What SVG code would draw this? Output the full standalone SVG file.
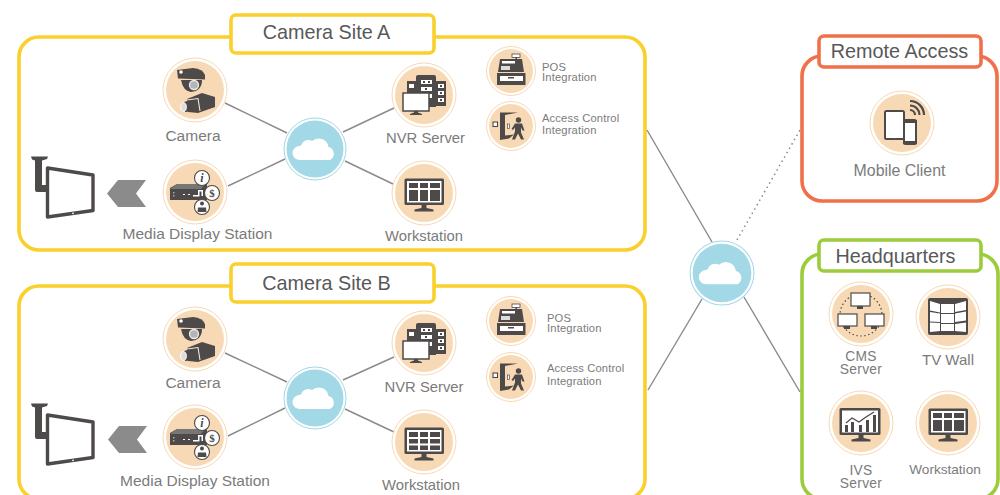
<svg xmlns="http://www.w3.org/2000/svg" width="1000" height="495" viewBox="0 0 1000 495">
<style>
text{font-family:"Liberation Sans",Arial,sans-serif;fill:#7b7b7b}
.t{font-size:19.800px;fill:#58585a;text-anchor:middle}
.l{font-size:14.800px;text-anchor:middle}
.b{font-size:15.500px}
.s{font-size:11.200px;letter-spacing:.15px}
.m{font-size:13.800px;letter-spacing:.3px}
.y{fill:#fff;stroke:#f9d02c;stroke-width:3.6}
.r{fill:#fff;stroke:#f0704a;stroke-width:3.6}
.g{fill:#fff;stroke:#9ccb3b;stroke-width:3.6}
.c line{stroke:#8a8a8a;stroke-width:1.4}
.d{fill:#4d4a49}
.w{fill:#fff}
.o{fill:#f8d9b5}
.q{fill:none;stroke:#f8d9b5;stroke-width:1}
</style>
<defs>
<g id="disc"><circle r="29" class="o"/><circle r="32" class="q"/></g>
<g id="disc2"><circle r="22" class="o"/><circle r="24.500" class="q"/></g>
<g id="cloudS"><circle r="28.500" fill="#a3d8e7"/><circle r="31" fill="none" stroke="#a3d8e7" stroke-width="1"/>
<path class="w" d="M-15,11a7,7 0 0 1 -1,-14l2,-.5a7.500,7.500 0 0 1 11,-4.500a10,10 0 0 1 16.500,6a7,7 0 0 1 1.500,13z"/></g>
<g id="cam">
<path class="d" d="M-18,-20 L-2,-22 Q8,-21 10,-15 L10,-10.500 L-17,-11.500 Z"/>
<path class="d" d="M-14,-10 L7,-10 Q7,1 -4,2 Q-12,1 -14,-10Z"/>
<circle cx="-1" cy="-5" r="4.500" fill="#b5b5b5" stroke="#eee" stroke-width="1.300"/>
<circle cx="-14" cy="-18" r="1.800" class="w"/>
<path class="d" d="M-8,9 L7,3 L20,7 L20,17 L3,23 L-7,22 Z"/>
<path fill="none" stroke="#f4e8da" stroke-width="1.100" d="M-8,10 L3,8.500 L5,21"/>
<path class="d" d="M-11,12L-6,10.500L-5,21.500L-10,22Z"/>
<ellipse cx="-11.500" cy="17" rx="2.800" ry="4.300" fill="#ddd" stroke="#fff"/>
</g>
<g id="media">
<path class="d" d="M-25,-4 L-25,8 L12,8 L12,-8 L-18,-8Z"/>
<path fill="#777" d="M-25,-3 L-18,-8 L10,-8 L6,-3Z"/>
<path class="w" d="M-12,2h2v1h-2zM-7,2h2v1h-2zM-2,3h5v-5h5v6h-1.500v-4.500h-2V4.500h-6.500z"/>
<path fill="#aaa" d="M-22,0h1.500v1.500h-1.500zM-22,3h1.500v1.500h-1.500z"/>
<g stroke="#4d4a49" stroke-width="1.100" fill="#fff">
<circle cx="7" cy="-14" r="7.500"/><circle cx="17" cy="1" r="7.500"/><circle cx="7" cy="15" r="7.500"/></g>
<text x="7" y="-10" font-size="12" font-weight="bold" font-style="italic" text-anchor="middle" style="font-family:'Liberation Serif',serif;fill:#4d4a49">i</text>
<text x="17" y="5" font-size="11" font-weight="bold" text-anchor="middle" style="font-family:'Liberation Serif',serif;fill:#4d4a49">$</text>
<circle cx="7" cy="11.500" r="2" class="d"/><path class="d" d="M2.500,20 L3,15.500 L11,15.500 L11.500,20Z"/>
</g>
<g id="nvr">
<path class="d" d="M-17,-14h9v14h-9zM12,-14h10v25h-10zM-8,-18q0,-2 2,-2h16q2,0 2,2v30h-20z"/>
<path class="w" d="M-3,-15h11v4h-11zM-3,-8h11v4h-11zM-3,-1h11v4h-11zM14,-11h6v4h-6zM14,-4h6v4h-6zM14,3h6v4h-6zM-15,-11h5v4h-5z"/>
<path class="d" d="M-1,-14h2v2h-2zM4,-14h2v2h-2zM1,-7h2v2h-2zM1,0h2v2h-2zM16,-10h2v2h-2zM16,-3h2v2h-2zM16,4h2v2h-2z"/>
<rect x="-21" y="-2" width="26" height="18" class="w" stroke="#4d4a49" stroke-width="1.500"/>
<path class="d" d="M-10,16h4v1.500l4,1.500v1h-12v-1l4,-1.500z"/>
</g>
<g id="ws">
<rect x="-19.500" y="-14.500" width="39.500" height="26.500" rx="1.500" class="d"/>
<rect x="-17" y="-12" width="34.500" height="21.500" class="w"/>
<path class="d" d="M-15,-10h9v5h-9zM-4,-10h8v5h-8zM6,-10h10v5h-10zM-15,-3h9v11h-9zM-4,-3h8v11h-8zM6,-3h10v11h-10z"/>
<path class="d" d="M-2.500,12h5v3l7,1.500v2h-19v-2l7,-1.500z"/>
</g>
<g id="ws2">
<rect x="-19.500" y="-14.500" width="39.500" height="26.500" rx="1.500" class="d"/>
<rect x="-17" y="-12" width="34.500" height="21.500" class="w"/>
<path class="d" d="M-15,-10h9v5h-9zM-4,-10h8v5h-8zM6,-10h10v5h-10zM-15,-3h9v4.500h-9zM-4,-3h8v4.500h-8zM6,-3h10v4.500h-10zM-15,3.500h9v4.500h-9zM-4,3.500h8v4.500h-8zM6,3.500h10v4.500h-10z"/>
<path class="d" d="M-2.500,12h5v3l7,1.500v2h-19v-2l7,-1.500z"/>
</g>
<g id="pos">
<path class="d" d="M-11,-12h22l2,13h-26zM-14,2h28.500v12h-28.500z"/>
<rect x="1" y="-17" width="8" height="3.500" class="w" stroke="#4d4a49" stroke-width=".8"/>
<rect x="4.500" y="-14" width="1.500" height="3" class="d"/>
<rect x="-9" y="-10" width="13" height="2.500" class="w"/>
<path fill="#ddd" d="M-10,-5h9v4h-9z"/>
<rect x="-11" y="5" width="23" height="5" class="w"/><rect x="-3" y="6" width="6" height="1.500" class="d"/>
</g>
<g id="acc">
<path class="d" d="M-11,-13.500H7L-6,-11V9.500L3,8.500L-2,12.500L-11,14Z"/>
<rect x="-3.500" y="-2" width="2" height="4.500" fill="#fff" stroke="#4d4a49" stroke-width=".7"/>
<rect x="-18" y="-4" width="4.500" height="4.500" class="w" stroke="#4d4a49" stroke-width="1.100"/>
<circle cx="7.500" cy="-6" r="2.700" class="d"/>
<path class="d" d="M4,-2.500h7l2.500,7h-2l-1.500,-3l0,5l3,7h-3l-3,-6l-3,6h-3l3,-8l0,-4l-2,2.500l-1.500,-1z"/>
</g>
<g id="arrow"><path fill="#8b8b8b" d="M0,0L11,-13.500H39L29,0L39,13.500H11Z"/></g>
<g id="sign">
<path class="d" d="M31,156.500h17l-1,2.500l-5,1.500V185h5v7h-10q-2,0 -2,-2V160.500l-3,-1z"/>
<path d="M47.500,168L93,175V210.500L47.500,217Z" fill="#fff" stroke="#4d4a49" stroke-width="3.400" stroke-linejoin="round"/>
<circle cx="73" cy="213.300" r=".9" class="w"/>
</g>
</defs>
<rect width="1000" height="495" fill="#fff"/>
<g id="site-a">
<rect class="y" x="19" y="37" width="626" height="213" rx="20"/>
<rect class="y" x="231" y="15" width="203" height="38" rx="5"/>
<text class="t" x="326.500" y="39">Camera Site A</text>
<use href="#sign"/>
<use href="#arrow" x="107" y="193.500"/>
</g>
<g id="site-b">
<rect class="y" x="19" y="286" width="626" height="213" rx="20"/>
<rect class="y" x="231" y="264" width="203" height="38" rx="5"/>
<text class="t" x="326.500" y="290">Camera Site B</text>
<use href="#sign" y="247"/>
<use href="#arrow" x="108" y="439.500"/>
</g>
<g id="remote-access">
<rect class="r" x="802" y="56" width="195" height="145" rx="20"/>
<rect class="r" x="819" y="36" width="162" height="31" rx="5"/>
<text class="t" x="899.500" y="58">Remote Access</text>
</g>
<g id="headquarters">
<rect class="g" x="802" y="254" width="196" height="245" rx="20"/>
<rect class="g" x="819" y="240" width="162" height="31" rx="5"/>
<text class="t" x="895.500" y="263">Headquarters</text>
</g>
<g id="connectors" class="c">
<line x1="225" y1="103" x2="287" y2="133"/><line x1="228" y1="186" x2="285" y2="159"/><line x1="343" y1="132" x2="394" y2="108"/><line x1="345" y1="161" x2="393" y2="184"/>
<line x1="225" y1="353" x2="287" y2="382"/><line x1="228" y1="436" x2="285" y2="408"/><line x1="343" y1="380" x2="394" y2="357"/><line x1="345" y1="409" x2="394" y2="432"/>
<line x1="647" y1="130" x2="712" y2="242"/><line x1="648" y1="390" x2="702" y2="299"/><line x1="744" y1="297" x2="800" y2="392"/>
<line x1="737" y1="240" x2="800" y2="130" stroke-dasharray="1.500 3.500" style="stroke-width:1.500"/>
</g>
<g id="camera-a"><use href="#disc" x="195" y="90"/><use href="#cam" x="195" y="90"/><text class="l b" x="193" y="141">Camera</text></g>
<g id="media-a"><use href="#disc" x="195" y="192"/><use href="#media" x="195" y="192"/><text class="l b" x="197.500" y="239">Media Display Station</text></g>
<g id="cloud-a"><use href="#cloudS" x="315" y="149"/></g>
<g id="nvr-a"><use href="#disc" x="424" y="95"/><use href="#nvr" x="424" y="95"/><text class="l" x="425.500" y="143">NVR Server</text></g>
<g id="ws-a"><use href="#disc" x="424" y="193"/><use href="#ws" x="424" y="193"/><text class="l" x="424" y="241">Workstation</text></g>
<g id="pos-a"><use href="#disc2" x="511" y="71"/><use href="#pos" x="511" y="71"/><text class="s" x="542" y="71">POS</text><text class="s" x="542" y="81">Integration</text></g>
<g id="acc-a"><use href="#disc2" x="511" y="126"/><use href="#acc" x="511" y="126"/><text class="s" x="542" y="122">Access Control</text><text class="s" x="542" y="134">Integration</text></g>
<g id="camera-b"><use href="#disc" x="195" y="339"/><use href="#cam" x="195" y="339"/><text class="l b" x="193" y="388">Camera</text></g>
<g id="media-b"><use href="#disc" x="195" y="437"/><use href="#media" x="195" y="437"/><text class="l b" x="195" y="486">Media Display Station</text></g>
<g id="cloud-b"><use href="#cloudS" x="315" y="398"/></g>
<g id="nvr-b"><use href="#disc" x="424" y="343"/><use href="#nvr" x="424" y="343"/><text class="l" x="424" y="392">NVR Server</text></g>
<g id="ws-b"><use href="#disc" x="424" y="442"/><use href="#ws2" x="424" y="442"/><text class="l" x="421" y="490">Workstation</text></g>
<g id="pos-b"><use href="#disc2" x="511" y="321"/><use href="#pos" x="511" y="321"/><text class="s" x="547" y="322">POS</text><text class="s" x="547" y="332">Integration</text></g>
<g id="acc-b"><use href="#disc2" x="511" y="377"/><use href="#acc" x="511" y="377"/><text class="s" x="547" y="372">Access Control</text><text class="s" x="547" y="385">Integration</text></g>
<g id="hub"><use href="#cloudS" transform="translate(722,273) scale(1.030)"/></g>
<g id="mobile-client">
<use href="#disc" x="902" y="123"/>
<rect x="885" y="111" width="19" height="28" rx="1.500" fill="#fff" stroke="#4d4a49" stroke-width="2"/>
<circle cx="895" cy="137.500" r=".8" class="w"/>
<rect x="904" y="120" width="12" height="24" rx="1.500" fill="#fff" stroke="#4d4a49" stroke-width="2"/>
<path class="d" d="M903,120h14v3h-14zM903,141h14v3h-14z"/>
<path d="M910,110a5,5 0 0 1 5,5M910,105.500a9.500,9.500 0 0 1 9.500,9.500M910,101a14,14 0 0 1 14,14" fill="none" stroke="#4d4a49" stroke-width="2.200"/>
<text class="l" style="font-size:15.900px" x="899.500" y="176">Mobile Client</text>
</g>
<g id="cms">
<use href="#disc" x="861" y="314"/>
<circle cx="861" cy="315" r="21" fill="none" stroke="#4d4a49" stroke-width="1.200" stroke-dasharray="1.500 2.500"/>
<g fill="#fff" stroke="#4d4a49" stroke-width="1.200"><rect x="851" y="293" width="19" height="13"/><rect x="838" y="314" width="19" height="12"/><rect x="865" y="314" width="19" height="12"/></g>
<path class="d" d="M857,306h6v3h-6zM844,326h6v3h-6zM871,326h6v3h-6z"/>
<text class="l m" x="861" y="360.500">CMS</text><text class="l m" x="861" y="374">Server</text>
</g>
<g id="tv-wall">
<use href="#disc" x="948" y="317"/>
<rect x="928" y="298" width="40" height="37" rx="2" class="d"/>
<path class="w" d="M930,301l10,3v8.500l-10,-2zM930,312l10,1.500v8.500l-10,-.5zM930,322.500l10,.5v8l-10,1zM941,304h13v9h-13zM941,314h13v9h-13zM941,324h13v7h-13zM955,304l11,-3v9l-11,2zM955,313.500l11,-2v9l-11,1.500zM955,324l11,-1.500v9.500l-11,-1z"/>
<text class="l" style="font-size:15px" x="948" y="365">TV Wall</text>
</g>
<g id="ivs">
<use href="#disc" x="861" y="423"/>
<rect x="839.500" y="408" width="41" height="27" rx="1.500" class="d"/>
<rect x="842" y="410.500" width="36" height="22" class="w"/>
<path class="d" d="M845,425h3v7h-3zM851,422h3v10h-3zM859,425h3v7h-3zM866,420h3v12h-3zM873,415h3v17h-3z"/>
<path d="M846,423l6,-5l7,4l7,-5l8,-5" fill="none" stroke="#4d4a49" stroke-width="1.200"/>
<path class="d" d="M858.500,435h5v3l7,1.500v2h-19v-2l7,-1.500z"/>
<text class="l m" x="861" y="474.500">IVS</text><text class="l m" x="861" y="488">Server</text>
</g>
<g id="ws-hq"><use href="#disc" x="948" y="423"/><use href="#ws" x="948" y="423"/><text class="l" x="945" y="474" style="font-size:13.600px">Workstation</text></g>
</svg>
